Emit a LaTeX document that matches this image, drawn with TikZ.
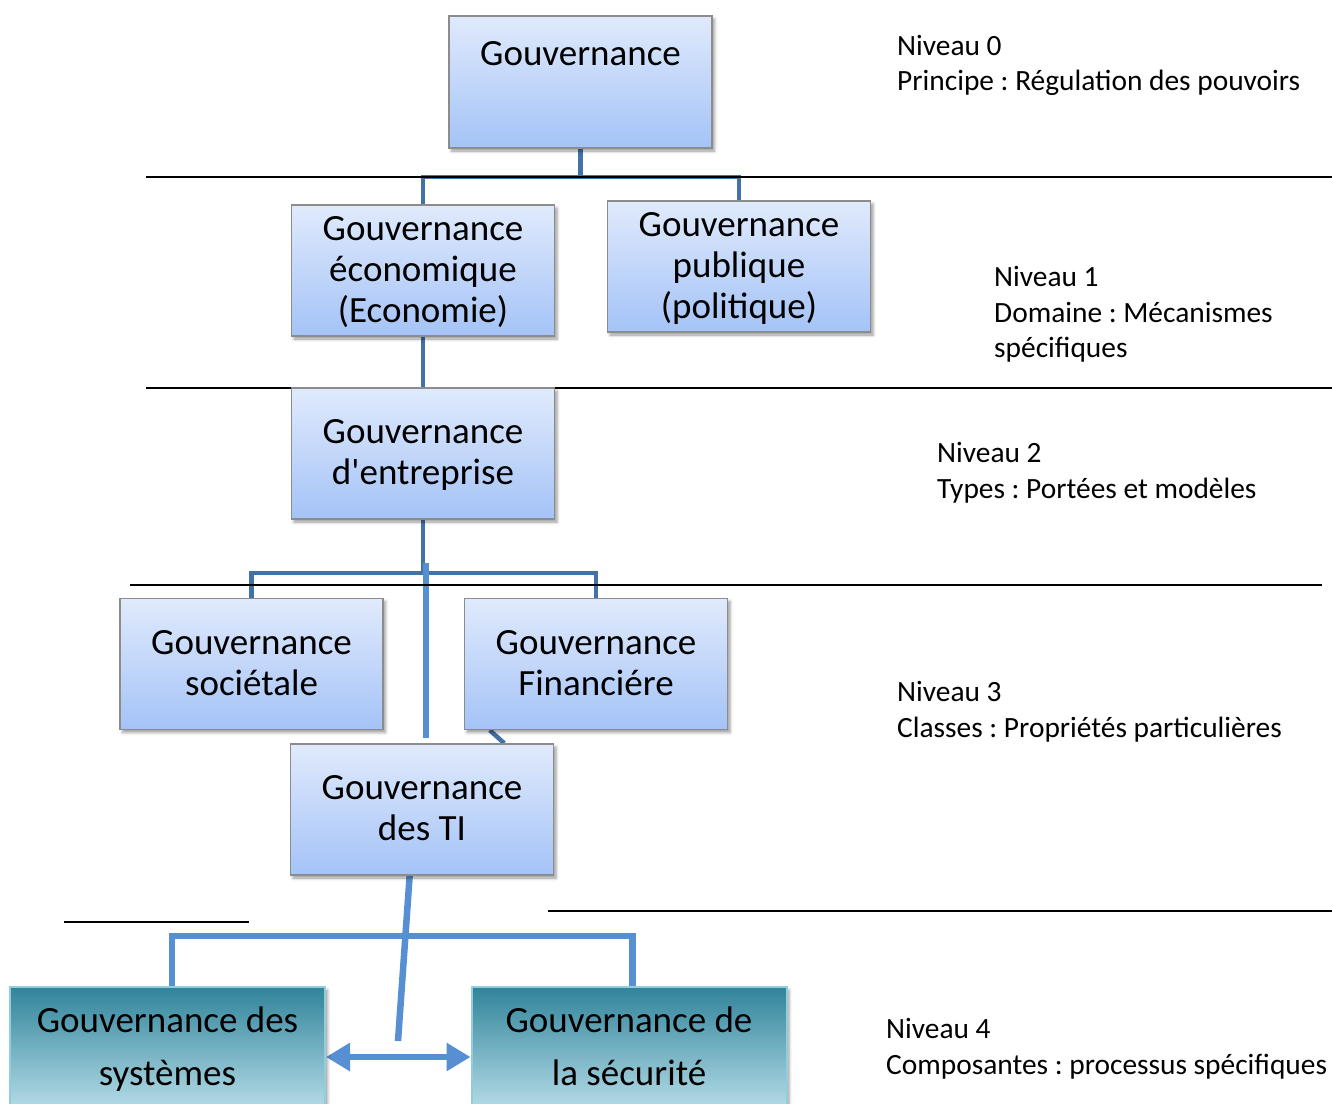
\documentclass[tikz,border=0pt]{standalone}
\usepackage{fontspec}
\setmainfont{Carlito}
\frenchspacing
\usetikzlibrary{calc,shadows.blur,arrows.meta}
\definecolor{boxtop}{HTML}{E0EAFC}
\definecolor{boxbot}{HTML}{A4C3F7}
\definecolor{boxedge}{HTML}{8C8C8C}
\definecolor{tealtop}{HTML}{31849B}
\definecolor{tealbot}{HTML}{B6DDE8}
\definecolor{tealedge}{HTML}{92CDDC}
\definecolor{darkcon}{HTML}{4272A6}
\definecolor{lightcon}{HTML}{5690D3}
\pgfdeclarelayer{background}
\pgfsetlayers{background,main}
% fixed first-line height and last-line depth keep box text evenly placed
\newcommand\firstline{\rule{0pt}{31pt}}
\newcommand\lastline{\rule[-10pt]{0pt}{10pt}}
\begin{document}
\begin{tikzpicture}[x=1pt,y=-1pt,
  bluebox/.style={rectangle, draw=boxedge, line width=1.5pt,
    top color=boxtop, bottom color=boxbot,
    minimum width=263pt, minimum height=131pt, inner sep=0pt, align=center,
    font=\fontsize{37}{41}\selectfont,
    blur shadow={shadow xshift=2.5pt, shadow yshift=-3pt, shadow blur radius=3pt, shadow opacity=40}},
  tealbox/.style={rectangle, draw=tealedge, line width=2pt,
    top color=tealtop, bottom color=tealbot,
    minimum width=315pt, minimum height=123pt, inner sep=0pt, align=center,
    font=\fontsize{37}{53}\selectfont,
    blur shadow={shadow xshift=2.5pt, shadow yshift=-3pt, shadow blur radius=3pt, shadow opacity=40}},
  lbl/.style={anchor=north west, inner sep=0pt, align=left,
    font=\fontsize{29.4}{35.5}\selectfont},
  dark/.style={draw=darkcon, line width=4.5pt},
  light/.style={draw=lightcon, line width=6.5pt},
  twoway/.style={draw=lightcon, line width=6pt,
    {Triangle[width=27pt,length=24pt]}-{Triangle[width=27pt,length=24pt]}},
  rule/.style={draw=black, line width=1.8pt}]
\useasboundingbox (0,0) rectangle (1332,1103);
\clip (0,0) rectangle (1332,1103);

% hierarchy boxes
\node[bluebox, minimum height=132pt, text height=49pt, text depth=83pt] (g0) at (580.5,82) {Gouvernance};
\node[bluebox] (econ) at (423,270.5) {\firstline Gouvernance\\économique\\(Economie)\lastline};
\node[bluebox] (pub) at (739,266.5) {\firstline Gouvernance\\publique\\(politique)\lastline};
\node[bluebox] (ent) at (423,453.5) {\firstline Gouvernance\\d\textquotesingle entreprise\lastline};
\node[bluebox] (soc) at (251.5,664) {\firstline Gouvernance\\sociétale\lastline};
\node[bluebox] (fin) at (596,664) {\firstline Gouvernance\\Financiére\lastline};
\node[bluebox] (ti) at (422,809.5) {\firstline Gouvernance\\des TI\lastline};
\node[tealbox] (sys) at (167.5,1048.5) {\firstline Gouvernance des\\systèmes\lastline};
\node[tealbox] (sec) at (629,1048.5) {\firstline Gouvernance de\\la sécurité\lastline};

% level descriptions
\node[lbl] (l0) at (897,35) {Niveau 0\\Principe : Régulation des pouvoirs};
\node[lbl] (l1) at (994,266.5) {Niveau 1\\Domaine : Mécanismes\\spécifiques};
\node[lbl] (l2) at (937,442.5) {Niveau 2\\Types : Portées et modèles};
\node[lbl] (l3) at (897,681.5) {Niveau 3\\Classes : Propriétés particulières};
\node[lbl] (l4) at (886,1018.5) {Niveau 4\\Composantes : processus spécifiques};

\begin{pgfonlayer}{background}
  % tree connectors
  \draw[dark] (g0.south) -- ++(0,28) coordinate (j0) -| (econ.north);
  \draw[dark] (j0) -| (pub.north);
  \draw[dark] (econ.south) -- (ent.north);
  \draw[dark] (ent.south) -- ++(0,53) coordinate (j2) -| (soc.north);
  \draw[dark] (j2) -| (fin.north);
  \draw[dark] ($(fin.south west)+(26,0)$) -- ($(ti.north east)+(-50,0)$);
  \coordinate (v1) at (426,563);
  \coordinate (v2) at (426,738);
  \draw[light] (v1) -- (v2);
  \coordinate (w2) at (398,1041);
  \draw[light] ($(ti.south)+(-12,-5)$) -- (w2);
  \draw[light] ($(sys.north)+(4.5,0)$) -- ++(0,-50) -| ($(sec.north)+(3.5,0)$);
  \draw[twoway] ($(sys.east)+(0,8.5)$) -- ($(sec.west)+(0,8.5)$);
  % level separators
  \draw[rule] (146,177) -- (1332,177);
  \draw[rule] (146,388) -- (1332,388);
  \draw[rule] (130,585) -- (1322,585);
  \draw[rule] (64,922) -- (249,922);
  \draw[rule] (548,911) -- (1332,911);
\end{pgfonlayer}
\end{tikzpicture}
\end{document}
